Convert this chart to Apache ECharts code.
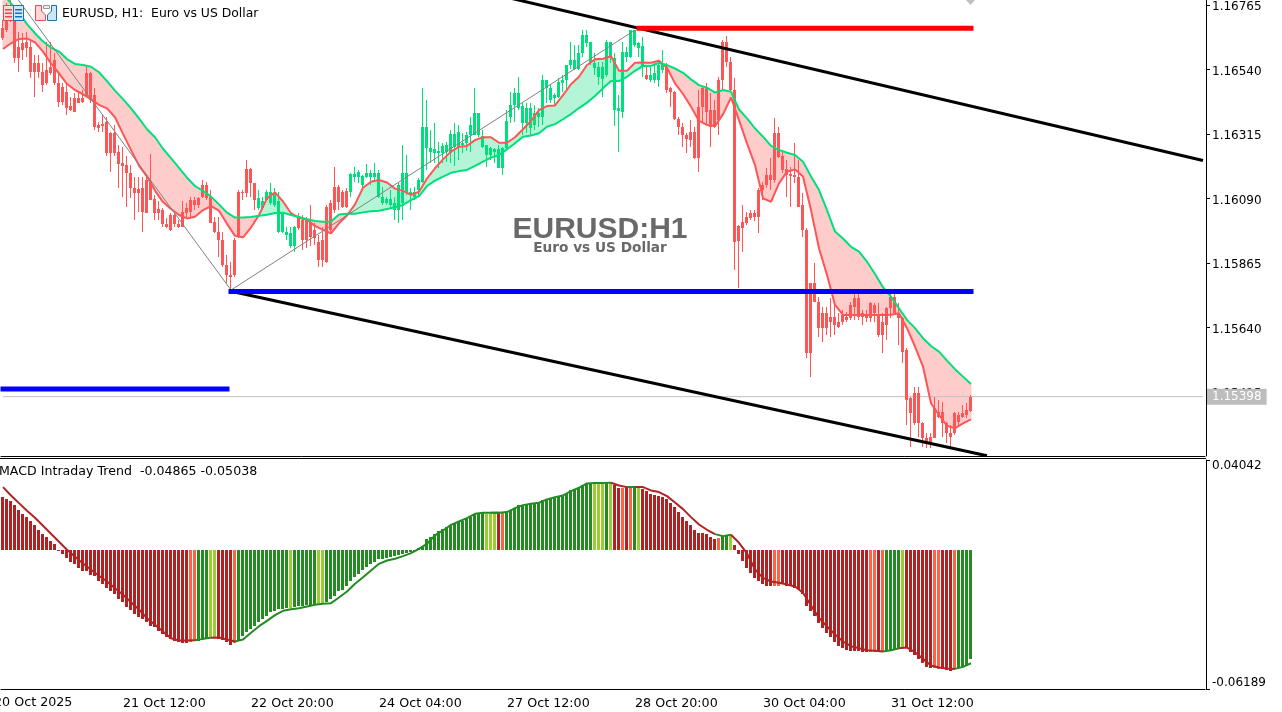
<!doctype html>
<html>
<head>
    <meta charset="utf-8">
    <title>EURUSD, H1</title>
    <style>
        html, body { margin: 0; padding: 0; background: #fff; }
        #chart { width: 1282px; height: 712px; }
    </style>
    <script src="https://cdn.jsdelivr.net/npm/echarts@6/dist/echarts.min.js"></script>
</head>
<body>
<div id="chart"></div>
<script>
// candles: one entry per H1 bar. colour follows the trend, not the candle direction,
// so only the upper and lower body edge can be read from the picture
var bodyHighs = [
    1.16683,1.16747,1.16765,1.16712,1.16619,1.16631,1.16637,1.16619,1.16561,1.16561,
    1.16532,1.16538,1.16549,1.16573,1.16491,1.16480,1.16462,1.16412,1.16439,1.16439,
    1.16439,1.16526,1.16526,1.16451,1.16346,1.16349,1.16358,1.16317,1.16317,1.16253,
    1.16212,1.16206,1.16177,1.16125,1.16122,1.16125,1.16154,1.16148,1.16087,1.16052,
    1.16049,1.16001,1.16032,1.16032,1.16001,1.16044,1.16055,1.16084,1.16084,1.16090,
    1.16137,1.16137,1.16096,1.16009,1.15974,1.15945,1.15858,1.15823,1.15945,1.16113,
    1.16113,1.16193,1.16193,1.16145,1.16090,1.16079,1.16113,1.16113,1.16108,1.16079,
    1.16038,1.15974,1.15968,1.15991,1.16026,1.16015,1.16015,1.16003,1.15980,1.15939,
    1.15945,1.16061,1.16073,1.16131,1.16131,1.16113,1.16117,1.16175,1.16175,1.16183,
    1.16168,1.16177,1.16177,1.16177,1.16179,1.16096,1.16086,1.16086,1.16075,1.16136,
    1.16177,1.16177,1.16113,1.16113,1.16154,1.16340,1.16340,1.16264,1.16261,1.16256,
    1.16273,1.16276,1.16314,1.16314,1.16320,1.16284,1.16311,1.16346,1.16386,1.16386,
    1.16307,1.16276,1.16264,1.16261,1.16261,1.16264,1.16361,1.16416,1.16456,1.16456,
    1.16412,1.16404,1.16404,1.16386,1.16386,1.16503,1.16503,1.16474,1.16450,1.16497,
    1.16503,1.16555,1.16572,1.16572,1.16598,1.16660,1.16660,1.16636,1.16561,1.16549,
    1.16549,1.16636,1.16636,1.16578,1.16404,1.16602,1.16602,1.16677,1.16677,1.16631,
    1.16621,1.16520,1.16520,1.16526,1.16555,1.16561,1.16549,1.16474,1.16462,1.16366,
    1.16338,1.16311,1.16322,1.16322,1.16410,1.16474,1.16474,1.16398,1.16398,1.16503,
    1.16636,1.16636,1.16567,1.16468,1.15993,1.16009,1.16026,1.16038,1.16038,1.16119,
    1.16136,1.16171,1.16171,1.16317,1.16317,1.16238,1.16191,1.16175,1.16171,1.16166,
    1.16067,1.15979,1.15793,1.15793,1.15730,1.15691,1.15691,1.15677,1.15677,1.15660,
    1.15683,1.15677,1.15718,1.15741,1.15741,1.15689,1.15683,1.15724,1.15718,1.15683,
    1.15660,1.15706,1.15747,1.15747,1.15689,1.15671,1.15561,1.15392,1.15410,1.15410,
    1.15307,1.15253,1.15256,1.15357,1.15346,1.15346,1.15305,1.15270,1.15340,1.15334,
    1.15340,1.15352,1.15398
];
var bodyLows = [
    1.16648,1.16677,1.16712,1.16579,1.16579,1.16608,1.16613,1.16532,1.16532,1.16532,
    1.16486,1.16491,1.16529,1.16491,1.16427,1.16427,1.16404,1.16398,1.16392,1.16424,
    1.16427,1.16445,1.16433,1.16340,1.16334,1.16343,1.16247,1.16249,1.16249,1.16210,
    1.16204,1.16177,1.16125,1.16110,1.16108,1.16044,1.16040,1.16084,1.16038,1.16038,
    1.16001,1.15989,1.15980,1.16001,1.15991,1.15991,1.16038,1.16044,1.16067,1.16067,
    1.16096,1.16090,1.16003,1.15974,1.15945,1.15858,1.15823,1.15817,1.15823,1.15956,
    1.16108,1.16108,1.16143,1.16084,1.16055,1.16055,1.16084,1.16073,1.16067,1.15974,
    1.15974,1.15962,1.15922,1.15922,1.15986,1.15943,1.15943,1.15956,1.15951,1.15875,
    1.15875,1.15869,1.15979,1.16049,1.16078,1.16061,1.16061,1.16113,1.16163,1.16163,
    1.16136,1.16166,1.16166,1.16166,1.16096,1.16073,1.16073,1.16067,1.16049,1.16049,
    1.16073,1.16113,1.16102,1.16096,1.16119,1.16148,1.16264,1.16253,1.16249,1.16247,
    1.16249,1.16253,1.16247,1.16270,1.16270,1.16276,1.16284,1.16311,1.16311,1.16311,
    1.16270,1.16241,1.16241,1.16253,1.16195,1.16195,1.16264,1.16375,1.16416,1.16404,
    1.16352,1.16352,1.16334,1.16346,1.16375,1.16375,1.16474,1.16433,1.16439,1.16445,
    1.16491,1.16503,1.16555,1.16543,1.16540,1.16596,1.16633,1.16561,1.16546,1.16514,
    1.16505,1.16520,1.16578,1.16398,1.16396,1.16392,1.16584,1.16584,1.16625,1.16613,
    1.16549,1.16505,1.16503,1.16503,1.16503,1.16538,1.16468,1.16462,1.16366,1.16338,
    1.16311,1.16296,1.16293,1.16229,1.16229,1.16407,1.16392,1.16340,1.16340,1.16363,
    1.16503,1.16567,1.16468,1.15939,1.15942,1.15985,1.16003,1.16020,1.16026,1.16026,
    1.16119,1.16136,1.16154,1.16154,1.16235,1.16189,1.16171,1.16168,1.16166,1.16061,
    1.15979,1.15549,1.15549,1.15730,1.15637,1.15637,1.15637,1.15660,1.15648,1.15642,
    1.15660,1.15666,1.15671,1.15712,1.15677,1.15677,1.15671,1.15671,1.15689,1.15613,
    1.15613,1.15648,1.15706,1.15689,1.15671,1.15555,1.15387,1.15340,1.15305,1.15305,
    1.15253,1.15235,1.15241,1.15253,1.15328,1.15305,1.15270,1.15259,1.15270,1.15311,
    1.15328,1.15334,1.15349
];
var highs = [
    1.16712,1.16770,1.16782,1.16759,1.16672,1.16666,1.16672,1.16642,1.16590,1.16590,
    1.16561,1.16637,1.16637,1.16596,1.16532,1.16491,1.16491,1.16445,1.16456,1.16456,
    1.16468,1.16549,1.16532,1.16474,1.16358,1.16381,1.16375,1.16323,1.16346,1.16276,
    1.16270,1.16236,1.16206,1.16166,1.16166,1.16166,1.16172,1.16245,1.16102,1.16079,
    1.16055,1.16020,1.16038,1.16038,1.16015,1.16079,1.16073,1.16096,1.16096,1.16096,
    1.16154,1.16148,1.16119,1.16026,1.16026,1.15974,1.15893,1.15869,1.15951,1.16119,
    1.16119,1.16224,1.16195,1.16145,1.16119,1.16096,1.16119,1.16145,1.16125,1.16113,
    1.16044,1.15991,1.15991,1.15994,1.16038,1.16032,1.16026,1.16067,1.16003,1.15962,
    1.15991,1.16067,1.16084,1.16200,1.16136,1.16119,1.16125,1.16177,1.16198,1.16189,
    1.16171,1.16210,1.16189,1.16212,1.16189,1.16131,1.16096,1.16119,1.16096,1.16142,
    1.16276,1.16241,1.16125,1.16131,1.16160,1.16474,1.16433,1.16328,1.16354,1.16288,
    1.16282,1.16288,1.16328,1.16352,1.16346,1.16317,1.16322,1.16375,1.16474,1.16389,
    1.16328,1.16276,1.16270,1.16264,1.16276,1.16270,1.16398,1.16462,1.16474,1.16514,
    1.16421,1.16421,1.16421,1.16416,1.16404,1.16520,1.16503,1.16485,1.16456,1.16509,
    1.16520,1.16555,1.16636,1.16625,1.16625,1.16677,1.16677,1.16636,1.16596,1.16567,
    1.16567,1.16642,1.16636,1.16596,1.16450,1.16636,1.16619,1.16677,1.16679,1.16636,
    1.16654,1.16549,1.16549,1.16561,1.16561,1.16607,1.16561,1.16479,1.16466,1.16375,
    1.16352,1.16317,1.16363,1.16340,1.16468,1.16479,1.16491,1.16456,1.16433,1.16514,
    1.16642,1.16656,1.16584,1.16509,1.15997,1.16067,1.16043,1.16049,1.16049,1.16125,
    1.16148,1.16195,1.16229,1.16369,1.16338,1.16253,1.16224,1.16200,1.16282,1.16224,
    1.16107,1.15985,1.15793,1.15863,1.15747,1.15712,1.15712,1.15741,1.15718,1.15689,
    1.15700,1.15695,1.15730,1.15759,1.15759,1.15700,1.15700,1.15730,1.15724,1.15724,
    1.15689,1.15712,1.15759,1.15759,1.15724,1.15677,1.15567,1.15398,1.15433,1.15433,
    1.15311,1.15270,1.15270,1.15398,1.15387,1.15381,1.15311,1.15299,1.15346,1.15346,
    1.15369,1.15375,1.15404
];
var lows = [
    1.16642,1.16672,1.16706,1.16561,1.16532,1.16573,1.16584,1.16509,1.16445,1.16509,
    1.16462,1.16486,1.16520,1.16486,1.16410,1.16416,1.16381,1.16396,1.16390,1.16422,
    1.16422,1.16442,1.16422,1.16329,1.16323,1.16323,1.16236,1.16183,1.16236,1.16125,
    1.16096,1.16061,1.16090,1.16015,1.16044,1.15974,1.16038,1.16084,1.16015,1.16015,
    1.15991,1.15986,1.15977,1.15991,1.15986,1.15991,1.16026,1.16026,1.16049,1.16055,
    1.16090,1.16084,1.16003,1.15968,1.15887,1.15852,1.15794,1.15770,1.15817,1.15951,
    1.16084,1.16096,1.16096,1.16049,1.16049,1.16049,1.16079,1.16067,1.16061,1.15970,
    1.15970,1.15945,1.15916,1.15904,1.15980,1.15910,1.15916,1.15922,1.15927,1.15852,
    1.15852,1.15863,1.15974,1.16038,1.16049,1.16055,1.16055,1.16096,1.16148,1.16142,
    1.16131,1.16160,1.16136,1.16154,1.16090,1.16067,1.16067,1.16061,1.16014,1.16005,
    1.16014,1.16102,1.16049,1.16084,1.16102,1.16142,1.16189,1.16212,1.16212,1.16195,
    1.16212,1.16218,1.16212,1.16203,1.16224,1.16247,1.16256,1.16253,1.16311,1.16305,
    1.16264,1.16200,1.16224,1.16212,1.16195,1.16171,1.16261,1.16352,1.16357,1.16398,
    1.16311,1.16317,1.16311,1.16328,1.16340,1.16346,1.16421,1.16421,1.16416,1.16439,
    1.16462,1.16468,1.16543,1.16538,1.16538,1.16584,1.16619,1.16555,1.16520,1.16485,
    1.16445,1.16514,1.16561,1.16342,1.16253,1.16369,1.16567,1.16578,1.16619,1.16584,
    1.16514,1.16503,1.16497,1.16493,1.16479,1.16526,1.16456,1.16410,1.16363,1.16311,
    1.16270,1.16247,1.16270,1.16226,1.16183,1.16352,1.16346,1.16270,1.16334,1.16311,
    1.16468,1.16549,1.16462,1.15840,1.15776,1.15904,1.15997,1.16014,1.16012,1.15968,
    1.16084,1.16125,1.16119,1.16142,1.16229,1.16177,1.16096,1.16061,1.16142,1.16061,
    1.15956,1.15532,1.15468,1.15730,1.15607,1.15590,1.15613,1.15607,1.15613,1.15637,
    1.15648,1.15660,1.15666,1.15666,1.15666,1.15648,1.15660,1.15660,1.15660,1.15607,
    1.15549,1.15596,1.15671,1.15683,1.15578,1.15514,1.15299,1.15224,1.15299,1.15259,
    1.15224,1.15218,1.15218,1.15253,1.15323,1.15259,1.15235,1.15218,1.15264,1.15299,
    1.15323,1.15323,1.15346
];
// bars drawn in the bullish colour, first and last bar of each stretch
var bullRuns = [[64, 73], [87, 160], [162, 165]];

// moving averages read every second bar
var maFast = [
    1.16611,1.16631,1.16646,1.16648,1.16634,1.16602,1.16561,1.16526,1.16489,1.16468,
    1.16453,1.16436,1.16416,1.16404,1.16373,1.16315,1.16259,1.16204,1.16166,1.16117,
    1.16077,1.16053,1.16032,1.16020,1.16026,1.16049,1.16063,1.16047,1.16001,1.15959,
    1.15954,1.15988,1.16032,1.16090,1.16111,1.16079,1.16038,1.16022,1.16015,1.15994,
    1.15980,1.15968,1.16003,1.16030,1.16069,1.16127,1.16148,1.16154,1.16145,1.16124,
    1.16116,1.16102,1.16113,1.16159,1.16195,1.16226,1.16253,1.16270,1.16273,1.16293,
    1.16303,1.16303,1.16284,1.16284,1.16303,1.16331,1.16360,1.16398,1.16412,1.16414,
    1.16450,1.16488,1.16514,1.16555,1.16575,1.16577,1.16586,1.16535,1.16535,1.16563,
    1.16564,1.16563,1.16570,1.16546,1.16491,1.16454,1.16410,1.16360,1.16346,1.16342,
    1.16383,1.16442,1.16363,1.16282,1.16206,1.16090,1.16078,1.16142,1.16183,1.16191,
    1.16166,1.16049,1.15916,1.15823,1.15718,1.15683,1.15683,1.15683,1.15683,1.15683,
    1.15683,1.15684,1.15689,1.15637,1.15573,1.15503,1.15375,1.15334,1.15296,1.15288,
    1.15305,1.15319
];
var maSlow = [
    1.16805,1.16770,1.16738,1.16698,1.16666,1.16637,1.16616,1.16602,1.16576,1.16559,
    1.16555,1.16549,1.16530,1.16499,1.16466,1.16436,1.16404,1.16369,1.16331,1.16303,
    1.16263,1.16230,1.16196,1.16162,1.16133,1.16116,1.16096,1.16069,1.16040,1.16023,
    1.16023,1.16025,1.16029,1.16033,1.16039,1.16040,1.16032,1.16025,1.16017,1.16011,
    1.16008,1.16009,1.16034,1.16036,1.16036,1.16041,1.16045,1.16047,1.16053,1.16059,
    1.16067,1.16084,1.16098,1.16133,1.16152,1.16166,1.16179,1.16185,1.16189,1.16203,
    1.16218,1.16232,1.16241,1.16261,1.16282,1.16305,1.16309,1.16317,1.16340,1.16349,
    1.16366,1.16384,1.16405,1.16424,1.16447,1.16474,1.16499,1.16499,1.16514,1.16535,
    1.16552,1.16552,1.16562,1.16555,1.16543,1.16528,1.16505,1.16485,1.16476,1.16459,
    1.16468,1.16462,1.16400,1.16369,1.16334,1.16305,1.16273,1.16259,1.16249,1.16241,
    1.16218,1.16166,1.16119,1.16049,1.15974,1.15950,1.15921,1.15904,1.15869,1.15826,
    1.15780,1.15747,1.15706,1.15666,1.15637,1.15602,1.15575,1.15555,1.15524,1.15494,
    1.15468,1.15442
];

// channel and levels as [bar, price]
var channelTop = [[127, 1.16788], [300, 1.16222]];
var channelBottom = [[57, 1.15766], [246, 1.15192]];
var zigzag = [[0, 1.16855], [57, 1.15770], [158, 1.16677]];
var resistance = [[159, 1.16683], [242, 1.16683]];
var support = [[57, 1.15765], [242, 1.15765]];
var oldSupport = [[0, 1.15425], [56, 1.15425]];
var lastPrice = 1.15398;
var bidLine = [[0, lastPrice], [300, lastPrice]];

// MACD histogram, one value per bar
var macdHist = [
    0.02384,0.02280,0.02190,0.02012,0.01818,0.01639,0.01490,0.01311,0.01118,0.00894,
    0.00715,0.00596,0.00417,0.00268,0.00030,-0.00149,-0.00343,-0.00522,-0.00596,-0.00790,
    -0.00939,-0.00939,-0.01088,-0.01147,-0.01386,-0.01520,-0.01669,-0.01833,-0.01937,-0.02161,
    -0.02310,-0.02533,-0.02652,-0.02831,-0.02980,-0.03055,-0.03174,-0.03353,-0.03427,-0.03576,
    -0.03725,-0.03844,-0.03949,-0.04023,-0.04098,-0.04142,-0.04142,-0.04068,-0.04023,-0.04023,
    -0.03978,-0.03919,-0.03874,-0.03874,-0.03949,-0.03993,-0.04098,-0.04202,-0.04142,-0.04023,
    -0.03800,-0.03621,-0.03502,-0.03353,-0.03174,-0.03055,-0.02906,-0.02757,-0.02682,-0.02637,
    -0.02608,-0.02578,-0.02578,-0.02533,-0.02503,-0.02488,-0.02429,-0.02414,-0.02384,-0.02384,
    -0.02384,-0.02280,-0.02190,-0.02012,-0.01833,-0.01758,-0.01594,-0.01386,-0.01192,-0.01043,
    -0.00894,-0.00745,-0.00626,-0.00522,-0.00402,-0.00373,-0.00343,-0.00298,-0.00268,-0.00194,
    -0.00149,-0.00104,-0.00075,-0.00015,0.00104,0.00149,0.00492,0.00596,0.00745,0.00849,
    0.00939,0.01043,0.01118,0.01192,0.01267,0.01296,0.01416,0.01490,0.01639,0.01669,
    0.01669,0.01639,0.01639,0.01669,0.01684,0.01669,0.01714,0.01788,0.01892,0.02041,
    0.02041,0.02071,0.02086,0.02116,0.02131,0.02235,0.02310,0.02354,0.02384,0.02429,
    0.02459,0.02533,0.02682,0.02757,0.02801,0.02935,0.03010,0.03010,0.03010,0.03010,
    0.02980,0.03010,0.02980,0.02906,0.02801,0.02801,0.02831,0.02831,0.02801,0.02801,
    0.02757,0.02637,0.02533,0.02459,0.02429,0.02384,0.02280,0.02116,0.01937,0.01714,
    0.01490,0.01296,0.01118,0.00894,0.00790,0.00790,0.00745,0.00596,0.00492,0.00551,
    0.00626,0.00671,0.00626,0.00224,-0.00164,-0.00477,-0.00790,-0.00998,-0.01237,-0.01371,
    -0.01490,-0.01565,-0.01609,-0.01565,-0.01565,-0.01490,-0.01565,-0.01594,-0.01669,-0.01743,
    -0.01967,-0.02459,-0.02682,-0.02935,-0.03248,-0.03472,-0.03695,-0.03874,-0.04098,-0.04247,
    -0.04366,-0.04440,-0.04470,-0.04470,-0.04485,-0.04545,-0.04545,-0.04545,-0.04515,-0.04545,
    -0.04545,-0.04500,-0.04440,-0.04396,-0.04336,-0.04291,-0.04366,-0.04515,-0.04649,-0.04843,
    -0.05036,-0.05215,-0.05260,-0.05260,-0.05290,-0.05304,-0.05334,-0.05364,-0.05290,-0.05245,
    -0.05215,-0.05141,-0.04865
];
// histogram colour state per bar: R falling below, T tomato, G rising, Y yellowgreen
var histRuns = [
    ['R', 46], ['T', 48], ['G', 51], ['Y', 53], ['R', 57], ['T', 58], ['G', 71], ['Y', 72],
    ['G', 78], ['Y', 80], ['G', 120], ['Y', 123], ['R', 124], ['T', 125], ['G', 147], ['Y', 150],
    ['G', 151], ['Y', 152], ['R', 154], ['T', 155], ['R', 156], ['T', 157], ['G', 158], ['Y', 159],
    ['R', 178], ['T', 179], ['G', 181], ['Y', 182], ['R', 192], ['T', 194], ['R', 216], ['T', 218],
    ['R', 219], ['T', 220], ['G', 224], ['Y', 225], ['R', 232], ['T', 234], ['R', 237], ['T', 238],
    ['G', 242]
];
// MACD signal line read every second bar
var macdLine = [
    0.02831,0.02459,0.02116,0.01773,0.01460,0.01103,0.00745,0.00387,0.00030,-0.00283,
    -0.00581,-0.00864,-0.01132,-0.01386,-0.01684,-0.01982,-0.02310,-0.02637,-0.03025,-0.03323,
    -0.03621,-0.03919,-0.04023,-0.04023,-0.04008,-0.03949,-0.03904,-0.03889,-0.03978,-0.04068,
    -0.03978,-0.03680,-0.03382,-0.03144,-0.02891,-0.02697,-0.02622,-0.02578,-0.02503,-0.02429,
    -0.02384,-0.02354,-0.02101,-0.01833,-0.01490,-0.01192,-0.00894,-0.00596,-0.00447,-0.00373,
    -0.00253,-0.00119,0.00075,0.00298,0.00671,0.00894,0.01147,0.01296,0.01445,0.01639,
    0.01684,0.01684,0.01684,0.01714,0.01892,0.02026,0.02086,0.02131,0.02280,0.02384,
    0.02459,0.02652,0.02801,0.02995,0.03010,0.03010,0.03025,0.02906,0.02831,0.02831,
    0.02831,0.02682,0.02608,0.02429,0.02146,0.01848,0.01490,0.01162,0.00924,0.00730,
    0.00641,0.00700,0.00343,-0.00134,-0.00849,-0.01222,-0.01386,-0.01445,-0.01520,-0.01609,
    -0.01892,-0.02459,-0.03010,-0.03397,-0.03755,-0.04068,-0.04276,-0.04366,-0.04455,-0.04485,
    -0.04515,-0.04455,-0.04366,-0.04336,-0.04545,-0.04843,-0.05141,-0.05230,-0.05275,-0.05290,
    -0.05200,-0.05038
];

// tick labels
var priceTicks = [1.16765, 1.16540, 1.16315, 1.16090, 1.15865, 1.15640, 1.15415];
var macdTicks = [0.04042, -0.06189];
var timeLabels = ['21 Oct 12:00', '22 Oct 20:00', '24 Oct 04:00', '27 Oct 12:00', '28 Oct 20:00', '30 Oct 04:00', '31 Oct 12:00'];
var timeLabelBars = [30, 62, 94, 126, 158, 190, 222];
var firstTimeLabel = '20 Oct 2025';

var PRICE_MIN = 1.15191, PRICE_MAX = 1.16782;
var BAR_SLOTS = 301;
var FONT = '"DejaVu Sans", sans-serif';

var RED = '#FF5555', GREEN = '#00E07A';
var PINK_FILL = '#FFCCCC', MINT_FILL = '#B3F5D6';
var histColors = { R: '#B22222', T: '#FF6347', G: '#228B22', Y: '#9ACD32' };

function isBull(i) {
    return bullRuns.some(function (r) { return i >= r[0] && i <= r[1]; });
}

var histStates = [];
(function () {
    var from = 0;
    histRuns.forEach(function (r) {
        for (var i = from; i <= r[1]; i++) histStates.push(r[0]);
        from = r[1] + 1;
    });
})();

var categories = [];
for (var c = 0; c < BAR_SLOTS; c++) {
    var at = timeLabelBars.indexOf(c);
    categories.push(at >= 0 ? timeLabels[at] : '');
}

var candleRows = bodyHighs.map(function (top, i) {
    return [i, top, bodyLows[i], lows[i], highs[i]];
});
var histRows = macdHist.map(function (v, i) { return [i, v]; });

function everySecondBar(arr) {
    return arr.map(function (v, k) { return [k * 2, v]; });
}

// one band piece between two neighbouring samples of the averages
var bandData = [];
for (var k = 0; k < maFast.length - 1; k++) {
    bandData.push([k * 2, maFast[k], maSlow[k], k * 2 + 2, maFast[k + 1], maSlow[k + 1]]);
}

function renderBand(params, api) {
    var x0 = api.value(0), x1 = api.value(3);
    var a = api.coord([x0, api.value(1)]);
    var b = api.coord([x1, api.value(4)]);
    var c = api.coord([x1, api.value(5)]);
    var d = api.coord([x0, api.value(2)]);
    var col = api.value(1) + api.value(4) >= api.value(2) + api.value(5) ? MINT_FILL : PINK_FILL;
    return {
        type: 'polygon',
        shape: { points: [a, b, c, d] },
        style: { fill: col, stroke: col, lineWidth: 1 }
    };
}

// candle and histogram column: 3px wide on whole pixels, the terminal draws them without smoothing
function renderCandle(params, api) {
    var i = api.value(0);
    var p = api.coord([i, api.value(1)]);
    var bodyBottom = Math.round(api.coord([i, api.value(2)])[1]);
    var bodyTop = Math.round(p[1]);
    var lowY = Math.round(api.coord([i, api.value(3)])[1]);
    var highY = Math.round(api.coord([i, api.value(4)])[1]);
    var style = { fill: isBull(i) ? GREEN : RED };
    return {
        type: 'group',
        children: [
            { type: 'rect', shape: { x: p[0] - 1, y: highY, width: 1, height: Math.max(lowY - highY, 1) }, style: style },
            { type: 'rect', shape: { x: p[0] - 2, y: bodyTop, width: 3, height: Math.max(bodyBottom - bodyTop, 1) }, style: style }
        ]
    };
}

function renderHist(params, api) {
    var i = api.value(0);
    var p = api.coord([i, api.value(1)]);
    var y0 = Math.round(api.coord([i, 0])[1]);
    var y1 = Math.round(p[1]);
    return {
        type: 'rect',
        shape: { x: p[0] - 2, y: Math.min(y0, y1), width: 3, height: Math.max(Math.abs(y1 - y0), 1) },
        style: { fill: histColors[histStates[i]] }
    };
}

// the signal line takes the colour of the histogram state under it
function macdLinePart(letters) {
    return macdLine.map(function (v, k) {
        var i = k * 2;
        var before = k > 0 ? histStates[i] : null;
        var after = k < macdLine.length - 1 ? histStates[i + 2] : null;
        var hit = (before && letters.indexOf(before) >= 0) || (after && letters.indexOf(after) >= 0);
        return [i, hit ? v : null];
    });
}

function level(data, color, width, cap) {
    return {
        type: 'line', xAxisIndex: 0, yAxisIndex: 0, data: data, symbol: 'none', silent: true,
        lineStyle: { color: color, width: width, cap: cap || 'butt' }, z: 5
    };
}

var bidSeries = level(bidLine, '#C0C0C0', 1);
bidSeries.z = 1;
bidSeries.endLabel = {
    show: true, distance: 4, formatter: lastPrice.toFixed(5),
    color: '#fff', backgroundColor: '#BDBDBD', padding: [2, 5, 2, 5], fontSize: 12, fontFamily: FONT
};

var chart = echarts.init(document.getElementById('chart'));
chart.setOption({
    animation: false,
    backgroundColor: '#fff',
    textStyle: { fontFamily: FONT },
    grid: [
        { left: 1, top: 0, width: 1204, height: 456 },
        { left: 1, top: 460, width: 1204, height: 229 }
    ],
    xAxis: [
        {
            type: 'category', gridIndex: 0, data: categories,
            axisLine: { lineStyle: { color: '#000', width: 1 } },
            axisTick: { show: false }, axisLabel: { show: false }, splitLine: { show: false }
        },
        {
            type: 'category', gridIndex: 1, data: categories,
            axisLine: { onZero: false, lineStyle: { color: '#000', width: 1 } },
            axisTick: {
                length: 5, alignWithLabel: true, lineStyle: { color: '#000' },
                interval: function (i) { return timeLabelBars.indexOf(i) >= 0; }
            },
            axisLabel: {
                align: 'left', margin: 8, color: '#000', fontSize: 12.7, fontFamily: FONT,
                interval: function (i) { return timeLabelBars.indexOf(i) >= 0; }
            },
            splitLine: { show: false }
        }
    ],
    yAxis: [
        {
            type: 'value', gridIndex: 0, position: 'right', offset: 1, min: PRICE_MIN, max: PRICE_MAX,
            axisLine: { show: true, lineStyle: { color: '#000', width: 1 } },
            axisTick: { show: true, length: 4, customValues: priceTicks, lineStyle: { color: '#000' } },
            axisLabel: {
                customValues: priceTicks, margin: 6, color: '#000', fontSize: 12, fontFamily: FONT,
                formatter: function (v) { return '{t|' + v.toFixed(5) + '}'; },
                rich: { t: { padding: [5, 0, 0, 0], color: '#000', fontSize: 12, fontFamily: FONT } }
            },
            splitLine: { show: false }
        },
        {
            type: 'value', gridIndex: 1, position: 'right', offset: 1, min: macdTicks[1], max: macdTicks[0],
            axisLine: { show: true, lineStyle: { color: '#000', width: 1 } },
            axisTick: { show: true, length: 4, customValues: macdTicks, lineStyle: { color: '#000' } },
            axisLabel: {
                customValues: macdTicks, margin: 6, color: '#000', fontSize: 12, fontFamily: FONT,
                verticalAlignMaxLabel: 'bottom', verticalAlignMinLabel: 'top',
                formatter: function (v) { return v.toFixed(5); }
            },
            splitLine: { show: false }
        }
    ],
    graphic: [
        // second pane top border
        { type: 'rect', shape: { x: 0, y: 458, width: 1206, height: 1 }, style: { fill: '#000' }, z: 20 },
        // watermark
        { type: 'text', x: 600, y: 230, z: 0, style: { text: 'EURUSD:H1', fill: '#696969', font: 'bold 30px "Liberation Sans"', textAlign: 'center', textVerticalAlign: 'middle' } },
        { type: 'text', x: 600, y: 248, z: 0, style: { text: 'Euro vs US Dollar', fill: '#696969', font: 'bold 13.7px "DejaVu Sans"', textAlign: 'center', textVerticalAlign: 'middle' } },
        // header
        { type: 'text', x: 62, y: 14, z: 30, style: { text: 'EURUSD, H1:  Euro vs US Dollar', fill: '#000', font: '12.4px "DejaVu Sans"', textVerticalAlign: 'middle' } },
        { type: 'text', x: -1, y: 472, z: 30, style: { text: 'MACD Intraday Trend  -0.04865 -0.05038', fill: '#000', font: '12.6px "DejaVu Sans"', textVerticalAlign: 'middle' } },
        { type: 'text', x: -6, y: 703, z: 30, style: { text: firstTimeLabel, fill: '#000', font: '12.7px "DejaVu Sans"', textVerticalAlign: 'middle' } },
        // header icons
        { type: 'rect', shape: { x: 3.5, y: 5.5, width: 10, height: 15 }, style: { fill: '#FFD6D6', stroke: '#D85050' }, z: 30 },
        { type: 'rect', shape: { x: 13.5, y: 5.5, width: 10, height: 15 }, style: { fill: '#CFE6F7', stroke: '#1F6FB0' }, z: 30 },
        { type: 'rect', shape: { x: 5, y: 9, width: 7, height: 1.5 }, style: { fill: '#D85050' }, z: 31 },
        { type: 'rect', shape: { x: 5, y: 12.5, width: 7, height: 1.5 }, style: { fill: '#D85050' }, z: 31 },
        { type: 'rect', shape: { x: 5, y: 16, width: 7, height: 1.5 }, style: { fill: '#D85050' }, z: 31 },
        { type: 'rect', shape: { x: 15, y: 9, width: 7, height: 1.5 }, style: { fill: '#1F6FB0' }, z: 31 },
        { type: 'rect', shape: { x: 15, y: 12.5, width: 7, height: 1.5 }, style: { fill: '#1F6FB0' }, z: 31 },
        { type: 'rect', shape: { x: 15, y: 16, width: 7, height: 1.5 }, style: { fill: '#1F6FB0' }, z: 31 },
        { type: 'polygon', shape: { points: [[35.5, 5.5], [41.5, 5.5], [41.5, 11], [45.5, 15], [45.5, 20.5], [35.5, 20.5]] }, style: { fill: '#FFD6D6', stroke: '#D85050' }, z: 30 },
        { type: 'polygon', shape: { points: [[56.5, 5.5], [51.5, 5.5], [51.5, 11], [47.5, 15], [47.5, 20.5], [56.5, 20.5]] }, style: { fill: '#CFE6F7', stroke: '#1F6FB0' }, z: 30 },
        { type: 'rect', shape: { x: 43.5, y: 5.5, width: 6, height: 3 }, style: { fill: '#EEE', stroke: '#999' }, z: 30 },
        // chart shift marker
        { type: 'polygon', shape: { points: [[966, 0], [975, 0], [970.5, 5]] }, style: { fill: '#C0C0C0' }, z: 30 }
    ],
    series: [
        {
            type: 'custom', xAxisIndex: 0, yAxisIndex: 0, data: bandData, clip: true, silent: true,
            encode: { x: 0, y: 1 }, renderItem: renderBand, z: 1
        },
        bidSeries,
        {
            type: 'custom', xAxisIndex: 0, yAxisIndex: 0, data: candleRows, clip: true, silent: true,
            encode: { x: 0, y: [1, 2, 3, 4] }, renderItem: renderCandle, z: 2
        },
        { type: 'line', xAxisIndex: 0, yAxisIndex: 0, data: everySecondBar(maFast), symbol: 'none', silent: true, lineStyle: { color: RED, width: 2 }, z: 3 },
        { type: 'line', xAxisIndex: 0, yAxisIndex: 0, data: everySecondBar(maSlow), symbol: 'none', silent: true, lineStyle: { color: GREEN, width: 2 }, z: 3 },
        level(zigzag, '#808080', 1),
        level(channelTop, '#000', 3),
        level(channelBottom, '#000', 3),
        level(resistance, '#FF0000', 5, 'square'),
        level(support, '#0000FF', 5, 'square'),
        level(oldSupport, '#0000FF', 5, 'square'),
        {
            type: 'custom', xAxisIndex: 1, yAxisIndex: 1, data: histRows, clip: true, silent: true,
            encode: { x: 0, y: 1 }, renderItem: renderHist, z: 2
        },
        { type: 'line', xAxisIndex: 1, yAxisIndex: 1, data: macdLinePart('RT'), symbol: 'none', silent: true, lineStyle: { color: '#B22222', width: 2 }, z: 3 },
        { type: 'line', xAxisIndex: 1, yAxisIndex: 1, data: macdLinePart('GY'), symbol: 'none', silent: true, lineStyle: { color: '#228B22', width: 2 }, z: 3 }
    ]
});
</script>
</body>
</html>
